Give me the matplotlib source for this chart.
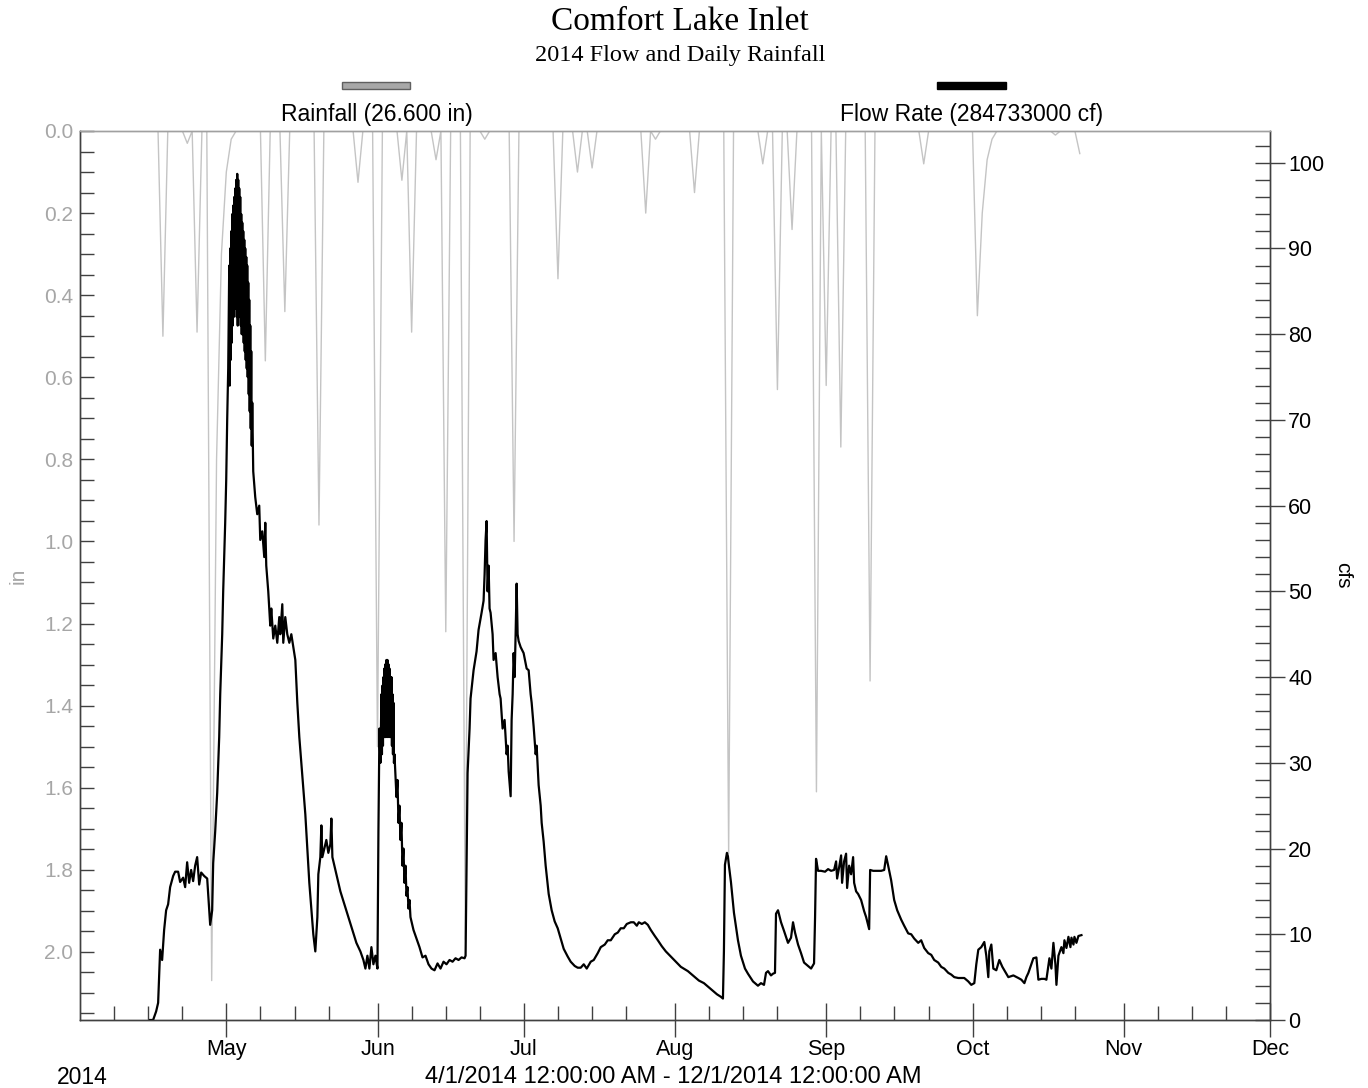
import matplotlib
matplotlib.use("Agg")
import matplotlib.pyplot as plt
import matplotlib.dates as mdates
from matplotlib.patches import Rectangle
from matplotlib.ticker import MultipleLocator, FormatStrFormatter
import datetime as dt
import numpy as np

# ---------------- data ----------------
start = dt.datetime(2014, 4, 1)
end = dt.datetime(2014, 12, 1)

# daily rainfall (inches) - day offset from Apr 1, value
rain_days = [17, 22, 24, 27, 28, 29, 30, 31, 38, 42, 49, 57, 61, 66, 68, 73, 75, 79,
             83, 89, 98, 102, 105, 116, 118, 126, 133, 140, 143, 146, 151, 153,
             156, 162, 173, 184, 185, 186, 187, 200, 205]
rain_in = [0.50, 0.03, 0.49, 2.07, 0.80, 0.30, 0.10, 0.02, 0.56, 0.44, 0.96, 0.125, 1.50,
           0.12, 0.49, 0.07, 1.22, 1.97, 0.02, 1.00, 0.36, 0.10, 0.09, 0.20, 0.02,
           0.15, 1.76, 0.08, 0.63, 0.24, 1.61, 0.62, 0.77, 1.34, 0.08, 0.45, 0.20,
           0.07, 0.02, 0.01, 0.055]
rain_last_day = 205

# flow rate (cfs) - fractional day offset from Apr 1, value (read in segments)
# April rise
flow_day_apr = [14.37, 14.99, 15.61, 16.02, 16.43, 16.84, 17.25, 17.66, 18.07, 18.48,
                19.10, 19.51, 20.12, 20.53, 21.15, 21.56, 21.97, 22.38, 22.79, 23.20,
                23.61, 24.02, 24.44, 24.85, 25.46, 26.08, 26.49, 26.69, 27.10, 27.31,
                27.72, 28.13, 28.54, 28.75, 29.16, 29.36, 29.77, 29.98, 30.18, 30.39]
flow_cfs_apr = [0.0, 0.0, 1.0, 2.0, 8.2, 7.0, 10.5, 12.8, 13.5, 15.5,
                16.8, 17.3, 17.3, 16.1, 16.6, 15.5, 18.4, 16.0, 17.5, 16.2,
                18.0, 19.0, 15.8, 17.2, 16.8, 16.5, 13.0, 11.1, 12.8, 18.3,
                22.0, 26.5, 33.0, 38.0, 45.0, 50.0, 58.0, 63.0, 70.0, 76.0]
# early-May peak (noisy band)
flow_day_may_peak = [30.60, 30.70, 30.80, 30.90, 31.01, 31.11, 31.21, 31.31, 31.42, 31.52,
                     31.62, 31.72, 31.83, 31.93, 32.03, 32.14, 32.24, 32.34, 32.44, 32.55,
                     32.65, 32.75, 32.85, 32.96, 33.06, 33.16, 33.27, 33.37, 33.47, 33.57,
                     33.68, 33.78, 33.88, 33.98, 34.09, 34.19, 34.29, 34.39, 34.50, 34.60,
                     34.70, 34.80, 34.91, 35.01, 35.11, 35.21, 35.32]
flow_cfs_may_peak = [88.0, 74.0, 90.0, 77.0, 92.0, 79.0, 94.0, 81.0, 95.0, 82.0,
                     96.0, 83.0, 97.0, 83.0, 98.0, 82.0, 98.7, 81.0, 98.0, 82.0,
                     97.0, 82.0, 96.0, 81.0, 94.0, 80.0, 93.0, 80.0, 92.0, 79.0,
                     91.0, 78.0, 90.0, 77.0, 89.0, 76.0, 88.0, 75.0, 86.0, 73.0,
                     84.0, 71.0, 81.0, 69.0, 78.0, 67.0, 72.0]
# May recession to end of May
flow_day_may = [35.52, 35.93, 36.34, 36.75, 36.96, 37.37, 37.78, 37.99, 38.19, 38.60,
                39.01, 39.22, 39.63, 40.04, 40.45, 40.86, 41.07, 41.48, 41.68, 42.09,
                42.50, 42.92, 43.33, 43.74, 44.15, 44.56, 44.97, 45.38, 45.79, 46.20,
                46.61, 47.02, 47.43, 47.84, 48.25, 48.67, 48.87, 49.28, 49.49, 49.69,
                50.10, 50.51, 50.92, 51.33, 51.54, 51.75, 52.16, 52.77, 53.39, 54.21,
                55.03, 55.85, 56.67, 57.49, 58.11, 58.52, 58.93, 59.34, 59.75, 60.16,
                60.57, 60.99, 61.19, 61.40, 61.60]
flow_cfs_may = [64.0, 61.0, 59.0, 60.0, 56.0, 57.0, 54.0, 58.0, 53.0, 50.0,
                46.0, 48.0, 44.5, 46.0, 44.0, 47.0, 45.0, 48.5, 44.0, 47.0,
                45.0, 44.0, 45.0, 43.5, 42.0, 37.0, 33.0, 30.0, 27.0, 24.0,
                20.0, 16.0, 13.0, 10.0, 8.0, 12.0, 17.0, 19.0, 22.7, 19.0,
                20.0, 21.0, 19.5, 20.5, 23.5, 19.0, 18.0, 16.5, 15.0, 13.5,
                12.0, 10.5, 9.0, 8.0, 7.0, 6.0, 7.5, 6.0, 8.5, 6.5,
                7.5, 6.0, 22.0, 34.0, 30.0]
# early-June peak (noisy band) and recession
flow_day_jun_peak = [61.81, 61.91, 62.01, 62.12, 62.22, 62.32, 62.42, 62.53, 62.63, 62.73,
                     62.83, 62.94, 63.04, 63.14, 63.24, 63.35, 63.45, 63.55, 63.66, 63.76,
                     63.86, 63.96, 64.07, 64.17, 64.27, 64.37, 64.48,
                     64.89, 65.10, 65.30, 65.50, 65.71, 65.91, 66.12, 66.32, 66.53, 66.74,
                     66.94, 67.15, 67.35, 67.56, 67.76]
flow_cfs_jun_peak = [38.0, 31.0, 39.0, 32.0, 40.0, 33.0, 41.0, 33.0, 41.5, 33.0,
                     42.0, 34.0, 42.0, 33.0, 41.5, 34.0, 41.0, 33.0, 40.0, 33.0,
                     40.0, 32.0, 38.0, 31.0, 37.0, 30.0, 31.0,
                     26.0, 28.0, 23.0, 25.0, 21.0, 23.0, 18.0, 20.0, 16.0, 18.0,
                     14.5, 15.5, 13.0, 14.0, 12.0]
# mid-June to end of record
flow_day_rest = [68.38, 68.99, 69.61, 70.23, 70.84, 71.46, 72.07, 72.69, 73.31,
                 73.92, 74.54, 75.15, 75.77, 76.39, 77.00, 77.62, 78.23, 78.85, 79.06,
                 79.26, 79.47, 79.88, 80.08, 80.70, 81.31, 81.72, 82.34, 82.75, 82.96,
                 83.16, 83.37, 83.57, 83.78, 83.98, 84.19, 84.60, 84.80, 85.22, 85.63,
                 86.04, 86.24, 86.65, 87.06, 87.47, 87.68, 87.89, 88.30, 88.50, 88.71,
                 88.91, 89.12, 89.32, 89.53, 89.73, 89.94, 90.35, 90.96, 91.58, 91.99,
                 92.40, 92.61, 93.02, 93.43, 93.63, 94.04, 94.46, 94.66, 95.07, 95.48,
                 96.10, 96.71, 97.33, 97.95, 98.56, 99.18, 100.00, 100.61, 101.44, 102.05,
                 102.67, 103.29, 103.90, 104.72, 105.34, 106.16, 106.78, 107.60, 108.21, 108.83,
                 109.65, 110.27, 110.88, 111.50, 112.11, 112.94, 113.55, 114.17, 114.58, 115.20,
                 115.81, 116.43, 117.04, 117.86, 118.48, 119.30, 120.12, 121.15, 122.18, 123.20,
                 124.64, 125.87, 126.90, 127.93, 128.95, 129.77, 130.60, 131.42, 131.83, 132.03,
                 132.24, 132.65, 132.85, 133.06, 133.47, 134.09, 134.91, 135.52, 136.35, 136.96,
                 137.99, 139.01, 139.63, 140.25, 140.66, 141.07, 141.68, 142.09, 142.50, 142.71,
                 143.12, 143.74, 144.35, 145.17, 145.79, 146.20, 146.61, 147.23, 147.84, 148.46,
                 149.28, 149.90, 150.51, 150.72, 150.92, 151.33, 151.95, 152.77, 153.39, 154.00,
                 154.62, 155.03, 155.24, 155.65, 156.06, 156.26, 156.67, 157.08, 157.29, 157.70,
                 158.11, 158.52, 158.73, 159.14, 159.55, 160.16, 160.78, 161.19, 161.81, 162.01,
                 162.63, 163.45, 164.27, 164.89, 165.30, 165.71, 166.32, 166.94, 167.56, 168.38,
                 168.99, 169.82, 170.43, 171.05, 171.87, 172.48, 173.10, 173.92, 174.54, 175.15,
                 175.97, 176.59, 177.21, 178.03, 178.64, 179.26, 180.08, 180.70, 181.31, 182.13,
                 182.75, 183.37, 183.78, 184.19, 184.80, 185.42, 185.83, 186.24, 186.45, 186.86,
                 187.27, 187.88, 188.50, 189.12, 189.53, 190.35, 191.38, 192.40, 193.02, 193.64,
                 194.05, 194.46, 195.07, 195.48, 196.10, 196.51, 197.13, 197.74, 198.15, 198.77,
                 199.18, 199.59, 200.00, 200.21, 200.62, 201.23, 201.64, 201.85, 202.26, 202.67,
                 203.08, 203.29, 203.70, 203.90, 204.31, 204.72, 205.34]
flow_cfs_rest = [10.5, 9.5, 8.5, 7.3, 7.5, 6.5, 6.0, 5.8, 6.6,
                 6.0, 6.8, 6.5, 7.0, 6.8, 7.2, 7.0, 7.3, 7.2, 7.5,
                 18.0, 28.8, 34.0, 37.5, 40.8, 43.0, 45.5, 47.5, 48.9, 52.0,
                 56.0, 58.2, 50.0, 53.0, 48.0, 47.5, 45.0, 42.0, 42.8, 40.0,
                 38.0, 37.5, 34.0, 35.0, 31.0, 32.0, 29.0, 26.1, 35.0, 38.0,
                 42.8, 40.0, 45.0, 50.9, 45.0, 44.2, 43.5, 42.8, 41.0, 40.8,
                 38.0, 37.0, 34.2, 31.0, 32.0, 27.4, 25.0, 23.0, 20.8, 18.0,
                 14.7, 12.8, 11.5, 10.7, 9.5, 8.3, 7.4, 6.8, 6.3, 6.1,
                 6.1, 6.5, 6.0, 6.8, 7.0, 7.8, 8.5, 8.8, 9.3, 9.3,
                 10.0, 10.2, 10.7, 10.7, 11.2, 11.4, 11.4, 11.0, 11.4, 11.2,
                 11.4, 11.1, 10.5, 9.8, 9.3, 8.6, 8.0, 7.4, 6.8, 6.2,
                 5.7, 5.1, 4.6, 4.3, 3.8, 3.4, 3.0, 2.7, 2.5, 8.0,
                 18.1, 19.5, 19.1, 18.0, 16.1, 12.5, 9.3, 7.5, 6.0, 5.4,
                 4.5, 4.0, 4.3, 4.1, 5.5, 5.7, 5.2, 5.4, 5.5, 12.4,
                 12.8, 11.4, 10.4, 9.0, 9.6, 11.4, 10.2, 8.8, 7.8, 6.7,
                 6.3, 6.0, 6.6, 12.0, 18.8, 17.4, 17.4, 17.3, 17.6, 17.4,
                 17.5, 18.5, 16.5, 17.8, 19.2, 16.0, 18.5, 19.4, 15.4, 18.0,
                 17.0, 19.0, 16.0, 15.0, 14.7, 14.0, 12.7, 12.0, 10.6, 17.5,
                 17.4, 17.4, 17.4, 17.5, 19.1, 18.0, 16.3, 14.0, 12.8, 11.7,
                 11.0, 10.1, 10.0, 9.5, 9.0, 9.3, 8.4, 7.8, 7.6, 7.0,
                 6.7, 6.2, 6.0, 5.5, 5.3, 5.0, 4.9, 4.9, 4.9, 4.5,
                 4.1, 4.3, 6.5, 8.2, 8.5, 9.1, 7.5, 5.0, 8.0, 8.8,
                 6.0, 5.8, 7.0, 6.2, 5.8, 5.0, 5.2, 4.9, 4.7, 4.3,
                 5.0, 5.5, 6.5, 7.2, 7.3, 4.7, 4.8, 4.8, 4.7, 7.2,
                 6.0, 9.0, 6.5, 4.1, 7.5, 8.5, 7.8, 9.3, 8.4, 9.7,
                 8.5, 9.6, 8.8, 9.7, 9.0, 9.8, 9.9]

flow_day = flow_day_apr + flow_day_may_peak + flow_day_may + flow_day_jun_peak + flow_day_rest
flow_cfs = flow_cfs_apr + flow_cfs_may_peak + flow_cfs_may + flow_cfs_jun_peak + flow_cfs_rest

month_labels = ["May", "Jun", "Jul", "Aug", "Sep", "Oct", "Nov", "Dec"]

# ---------------- build series ----------------
rain_series = np.zeros(rain_last_day + 1)
for d, v in zip(rain_days, rain_in):
    rain_series[d] = v
rain_dates = [start + dt.timedelta(days=int(i)) for i in range(rain_last_day + 1)]
flow_dates = [start + dt.timedelta(days=float(d)) for d in flow_day]

# ---------------- figure ----------------
W, H = 1368, 1088
fig = plt.figure(figsize=(W / 100, H / 100), dpi=100)
SANS = ["Liberation Sans", "DejaVu Sans"]
SERIF = ["Liberation Serif", "DejaVu Serif"]

ax = fig.add_axes([80 / W, 1 - 1020 / H, 1190 / W, 889 / H])
ax2 = ax.twinx()

grey_axis = "#a6a6a6"
ax.plot(rain_dates, rain_series, color="#c4c4c4", lw=1.0)
ax.set_ylim(2.166, 0.0)
ax.set_xlim(start, end)
ax2.plot(flow_dates, flow_cfs, color="black", lw=1.6)
ax2.set_ylim(0, 103.7)

# x axis
month_ticks = [dt.datetime(2014, m, 1) for m in range(5, 13)]
ax.set_xticks(month_ticks)
ax.set_xticklabels(month_labels)
ax.xaxis.set_minor_locator(mdates.DayLocator(bymonthday=[8, 15, 22]))
ax.tick_params(axis="x", which="major", direction="inout", length=24, width=1.0,
               color="#404040", labelsize=15.5, pad=2)
ax.tick_params(axis="x", which="minor", direction="in", length=10, width=1.0, color="#404040")
for lab in ax.get_xticklabels():
    lab.set_family(SANS)

# left axis
ax.yaxis.set_major_locator(MultipleLocator(0.2))
ax.yaxis.set_minor_locator(MultipleLocator(0.05))
ax.yaxis.set_major_formatter(FormatStrFormatter("%.1f"))
ax.tick_params(axis="y", which="both", direction="in", length=10, width=1.0,
               color="#404040", labelcolor=grey_axis, labelsize=15, pad=5)
for lab in ax.get_yticklabels():
    lab.set_family(SANS)
ax.set_ylabel("in", color=grey_axis, fontsize=15, family=SANS, labelpad=12)

# right axis
ax2.yaxis.set_major_locator(MultipleLocator(10))
ax2.yaxis.set_minor_locator(MultipleLocator(2))
ax2.tick_params(axis="y", which="major", direction="inout", length=22, width=1.0,
                color="#404040", labelsize=15.5, pad=2)
ax2.tick_params(axis="y", which="minor", direction="in", length=11, width=1.0, color="#404040")
for lab in ax2.get_yticklabels():
    lab.set_family(SANS)
ax2.set_ylabel("cfs", fontsize=15, family=SANS, rotation=-90, labelpad=20)

for a in (ax, ax2):
    for s in a.spines.values():
        s.set_color("#404040")
        s.set_linewidth(1.0)
ax.spines["top"].set_color("#a0a0a0")
ax2.spines["top"].set_color("#a0a0a0")

# titles
fig.text(680 / W, 1 - 22 / H, "Comfort Lake Inlet", ha="center", va="center",
         fontsize=24, family=SERIF)
fig.text(680.5 / W, 1 - 55 / H, "2014 Flow and Daily Rainfall", ha="center",
         va="center", fontsize=17.5, family=SERIF)

# legend
fig.add_artist(Rectangle((342 / W, 1 - 89 / H), 68 / W, 7 / H, transform=fig.transFigure,
                         facecolor="#a8a8a8", edgecolor="#606060", lw=1))
fig.add_artist(Rectangle((937 / W, 1 - 89 / H), 69 / W, 7 / H, transform=fig.transFigure,
                         facecolor="black", edgecolor="black", lw=1))
fig.text(377 / W, 1 - 115 / H, "Rainfall (26.600 in)", ha="center", va="center",
         fontsize=16.5, family=SANS)
fig.text(972 / W, 1 - 115 / H, "Flow Rate (284733000 cf)", ha="center", va="center",
         fontsize=16.5, family=SANS)

# bottom texts
fig.text(57 / W, 1 - 1077 / H, "2014", ha="left", va="center", fontsize=16.5, family=SANS)
fig.text(673 / W, 1 - 1077 / H, "4/1/2014 12:00:00 AM - 12/1/2014 12:00:00 AM",
         ha="center", va="center", fontsize=17, family=SANS)

fig.savefig("out.png", dpi=100)
